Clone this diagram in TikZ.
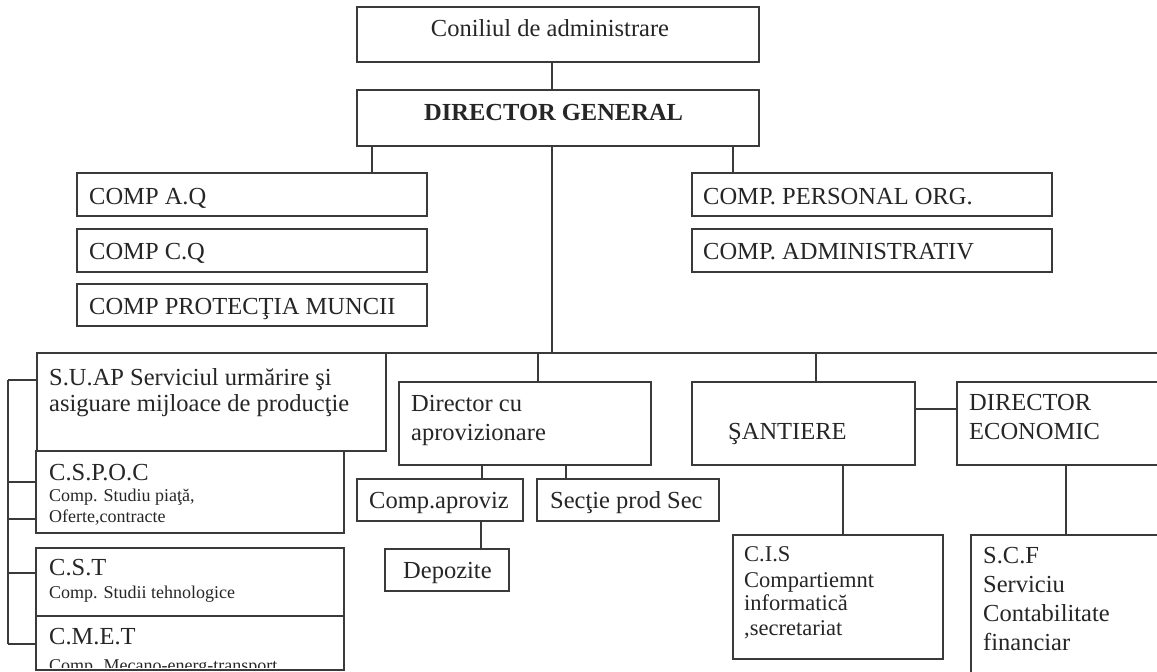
\documentclass[tikz,border=0pt]{standalone}
\usepackage{fontspec}
\setmainfont{Liberation Serif}
\definecolor{linec}{HTML}{3A3A3A}
\definecolor{txtc}{HTML}{262626}
\begin{document}
\begin{tikzpicture}[x=1pt,y=-1pt,
  box/.style={draw=linec,line width=1.3pt,inner sep=0pt,outer sep=0pt,anchor=north west},
  lbl/.style={anchor=base west,inner sep=0pt,text=txtc,font=\fontsize{24.5}{26}\selectfont},
  sml/.style={anchor=base west,inner sep=0pt,text=txtc,font=\fontsize{18}{20}\selectfont},
  mid/.style={anchor=base west,inner sep=0pt,text=txtc,font=\fontsize{22.5}{24}\selectfont},
  conn/.style={draw=linec,line width=1.2pt}]
\useasboundingbox[fill=white] (0,0) rectangle (1157,672);

% boxes
\node[box,minimum width=402pt,minimum height=55pt] (cons) at (357,7) {};
\node[box,minimum width=402pt,minimum height=56pt] (dg) at (357,90) {};
\node[box,minimum width=350pt,minimum height=43pt] (aq) at (77,173) {};
\node[box,minimum width=350pt,minimum height=43pt] (cq) at (77,229) {};
\node[box,minimum width=350pt,minimum height=42pt] (pm) at (77,284) {};
\node[box,minimum width=360pt,minimum height=43pt] (po) at (692,173) {};
\node[box,minimum width=360pt,minimum height=43pt] (ad) at (692,229) {};
\node[box,minimum width=349pt,minimum height=98pt] (suap) at (37,353) {};
\node[box,minimum width=308pt,minimum height=82pt] (cspoc) at (36,451) {};
\node[box,minimum width=308pt,minimum height=68pt] (cst) at (36,548) {};
\node[box,minimum width=252pt,minimum height=83pt] (da) at (399,382) {};
\node[box,minimum width=166pt,minimum height=42pt] (ca) at (357,479) {};
\node[box,minimum width=182pt,minimum height=42pt] (sp) at (537,479) {};
\node[box,minimum width=124pt,minimum height=42pt] (dep) at (385,549) {};
\node[box,minimum width=223pt,minimum height=83pt] (san) at (692,382) {};
\node[box,minimum width=220pt,minimum height=83pt] (de) at (957,382) {};
\node[box,minimum width=210pt,minimum height=124pt] (cis) at (733,535) {};
\node[box,minimum width=220pt,minimum height=160pt] (scf) at (971,535) {};

% texts
\node[lbl,anchor=base] (tcons) at (550,36) {Coniliul de administrare};
\node[lbl] (tdg) at (424,120) {\bfseries DIRECTOR GENERAL};
\node[lbl] (taq) at (89,204) {COMP A.Q};
\node[lbl] (tcq) at (89,259) {COMP C.Q};
\node[lbl] (tpm) at (89,314) {COMP PROTECŢIA MUNCII};
\node[lbl] (tpo) at (703,204) {COMP. PERSONAL ORG.};
\node[lbl] (tad) at (703,259) {COMP. ADMINISTRATIV};
\node[lbl] (tsuap1) at (49,385) {S.U.AP Serviciul urmărire şi};
\node[lbl] (tsuap2) at (49,411) {asiguare mijloace de producţie};
\node[lbl] (tcspoc1) at (49,480) {C.S.P.O.C};
\node[sml] (tcspoc2) at (49,501) {Comp. Studiu piaţă,};
\node[sml] (tcspoc3) at (49,522) {Oferte,contracte};
\node[lbl] (tcst1) at (49,575) {C.S.T};
\node[sml] (tcst2) at (49,598) {Comp. Studii tehnologice};
\node[lbl] (tcmet1) at (49,644) {C.M.E.T};
\begin{scope}
\clip (36,616) rectangle (344,667);
\node[sml] (tcmet2) at (49,671) {Comp. Mecano-energ-transport};
\end{scope}
\node[box,minimum width=308pt,minimum height=54pt] (cmet) at (36,616) {};
\node[lbl] (tda1) at (411,411) {Director cu};
\node[lbl] (tda2) at (411,440) {aprovizionare};
\node[lbl] (tca) at (369,508) {Comp.aproviz};
\node[lbl] (tsp) at (550,508) {Secţie prod Sec};
\node[lbl] (tdep) at (403,578) {Depozite};
\node[lbl] (tsan) at (728,439) {ŞANTIERE};
\node[lbl] (tde1) at (969,410) {DIRECTOR};
\node[lbl] (tde2) at (969,439) {ECONOMIC};
\node[mid] (tcis1) at (744,561) {C.I.S};
\node[mid] (tcis2) at (744,587) {Compartiemnt};
\node[mid] (tcis3) at (744,610) {informatică};
\node[mid] (tcis4) at (744,635) {,secretariat};
\node[lbl] (tscf1) at (983,563) {S.C.F};
\node[lbl] (tscf2) at (983,592) {Serviciu};
\node[lbl] (tscf3) at (983,621) {Contabilitate};
\node[lbl] (tscf4) at (983,650) {financiar};

% connector coordinates
\coordinate (xc) at (552,0);
\coordinate (xl) at (372,0);
\coordinate (xr) at (733,0);
\coordinate (busR) at (1157,353);
\coordinate (xda) at (538,0);
\coordinate (xsan) at (816,0);
\coordinate (xca) at (482,0);
\coordinate (xsp) at (566,0);
\coordinate (xdep) at (481,0);
\coordinate (xcis) at (843,0);
\coordinate (xscf) at (1066,0);
\coordinate (ysd) at (0,409);
\coordinate (lt) at (8,380);
\coordinate (lb) at (8,644);
\coordinate (y2) at (0,482);
\coordinate (y3) at (0,519);
\coordinate (y4) at (0,573);

% connectors
\draw[conn] (cons.south -| xc) -- (dg.north -| xc);
\draw[conn] (dg.south -| xl) -- (aq.north -| xl);
\draw[conn] (dg.south -| xr) -- (po.north -| xr);
\draw[conn] (dg.south -| xc) -- (busR -| xc);
\draw[conn] (suap.north east) -- (busR);
\draw[conn] (busR -| xda) -- (da.north -| xda);
\draw[conn] (busR -| xsan) -- (san.north -| xsan);
\draw[conn] (san.east |- ysd) -- (de.west |- ysd);
\draw[conn] (da.south -| xca) -- (ca.north -| xca);
\draw[conn] (da.south -| xsp) -- (sp.north -| xsp);
\draw[conn] (ca.south -| xdep) -- (dep.north -| xdep);
\draw[conn] (san.south -| xcis) -- (cis.north -| xcis);
\draw[conn] (de.south -| xscf) -- (scf.north -| xscf);
\draw[conn] (lt) -- (lb);
\draw[conn] (lt) -- (suap.west |- lt);
\draw[conn] (lt |- y2) -- (cspoc.west |- y2);
\draw[conn] (lt |- y3) -- (cspoc.west |- y3);
\draw[conn] (lt |- y4) -- (cst.west |- y4);
\draw[conn] (lb) -- (cmet.west |- lb);
\end{tikzpicture}
\end{document}
